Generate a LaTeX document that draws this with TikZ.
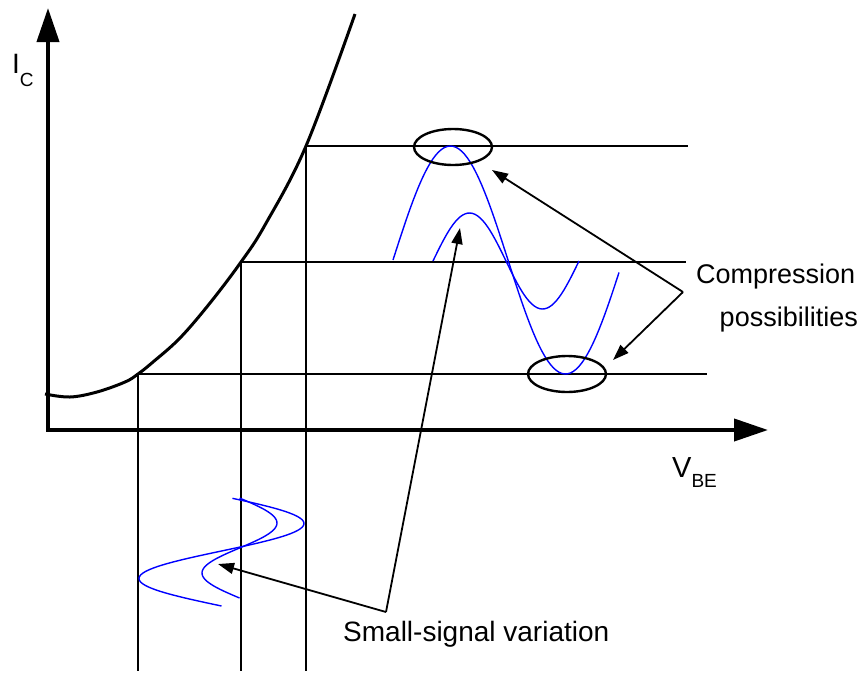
\documentclass[tikz,border=0pt]{standalone}
\usepackage{fontspec}
\setmainfont{Liberation Sans}
\usetikzlibrary{arrows.meta,shapes.geometric}
\definecolor{sigblue}{HTML}{0000FF}

\begin{document}
\begin{tikzpicture}[x=1pt,y=-1pt,
    axis/.style={line width=4pt,-{Triangle[length=34pt,width=22pt]}},
    guide/.style={line width=1.8pt},
    sig/.style={sigblue,line width=1.4pt},
    ring/.style={draw,ellipse,line width=2.4pt,minimum width=78pt,minimum height=36pt,inner sep=0pt},
    callout/.style={line width=1.8pt,-{Triangle[length=16pt,width=11pt]}},
    lbl/.style={inner sep=0pt,font=\fontsize{27}{32}\selectfont}]
  \useasboundingbox (0,0) rectangle (865,675);
  % axes
  \coordinate (org) at (48,430);
  \coordinate (ytop) at (48,8);
  \coordinate (xend) at (768,430);
  \draw[axis] (46,430) -- (xend);
  \draw[axis] (org) -- (ytop);
  \node[anchor=base west,inner sep=0pt,font=\fontsize{28}{28}\selectfont] (ic) at (12,73) {I\raisebox{-13.5pt}{\fontsize{19}{19}\selectfont C}};
  \node[anchor=base west,inner sep=0pt,font=\fontsize{29}{29}\selectfont] (vbe) at (672,477) {V\raisebox{-10pt}{\fontsize{19}{19}\selectfont BE}};
  % transfer curve
  \draw[line width=3pt] plot[smooth,tension=0.6] coordinates {(45,394) (70,397) (97,392) (125,382) (138,374) (153,362) (180,338) (210,303) (241,262) (265,225) (306,146) (355,14)};
  % bias levels
  \coordinate (q1) at (138,374);
  \coordinate (q2) at (241,262);
  \coordinate (q3) at (306,146);
  \coordinate (h1) at (707,374);
  \coordinate (h2) at (686,262);
  \coordinate (h3) at (688,146);
  \coordinate (v1) at (138,671);
  \coordinate (v2) at (241,671);
  \coordinate (v3) at (306,671);
  \draw[guide] (q1) -- (h1); \draw[guide] (q2) -- (h2); \draw[guide] (q3) -- (h3);
  \draw[guide] (q1) -- (v1); \draw[guide] (q2) -- (v2); \draw[guide] (q3) -- (v3);
  % output swings
  \draw[sig] plot[domain=393:619,samples=80] (\x,{260-114*sin((\x-393)/230*360)});
  \draw[sig] plot[domain=433:579,samples=60] (\x,{261-48*sin((\x-433)/146*360)});
  % input swings
  \draw[sig] plot[domain=0:0.98,samples=80] ({221.5-82.5*sin(360*\x)},{606-110*\x});
  \draw[sig] plot[domain=0:1,samples=60] ({239.5-37.5*sin(360*\x)},{598-100*\x});
  % clipped peaks
  \node[ring] (peakRing) at (453,147) {};
  \node[ring] (troughRing) at (567,374) {};
  % callouts
  \node[lbl,anchor=base west] (compTxt) at (696,283) {Compression};
  \node[lbl,anchor=base east] (possTxt) at (858,326) {possibilities};
  \coordinate (comp) at (683,292);
  \coordinate (peakTip) at (492,170);
  \coordinate (troughTip) at (613,360);
  \draw[callout] (comp) -- (peakTip);
  \draw[callout] (comp) -- (troughTip);
  \node[lbl,anchor=base west,font=\fontsize{28}{32}\selectfont] (ssTxt) at (343,641) {Small-signal variation};
  \coordinate (ss) at (386,612);
  \coordinate (outTip) at (460,228);
  \coordinate (inTip) at (218,564);
  \draw[callout] (ss) -- (outTip);
  \draw[callout] (ss) -- (inTip);
\end{tikzpicture}
\end{document}
